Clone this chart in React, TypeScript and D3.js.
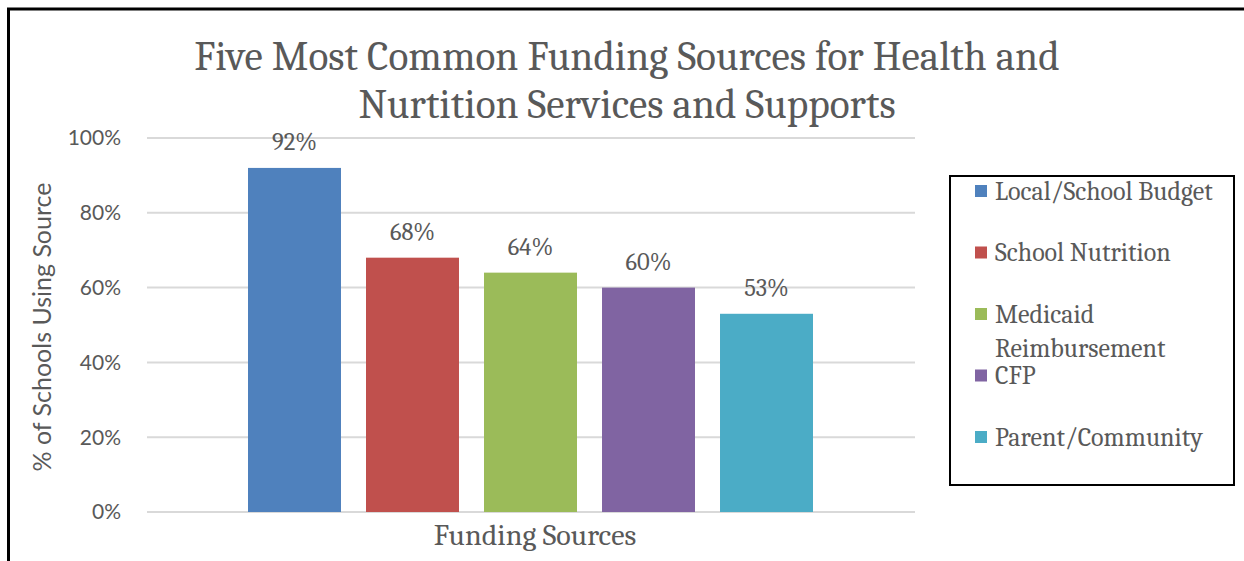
import * as d3 from "d3";

const categories = [
  "Local/School Budget",
  "School Nutrition",
  "Medicaid Reimbursement",
  "CFP",
  "Parent/Community",
];
const values = [0.92, 0.68, 0.64, 0.6, 0.53];
const barColors = ["#4F81BD", "#C0504D", "#9BBB59", "#8064A2", "#4BACC6"];
const yTicks = [0, 0.2, 0.4, 0.6, 0.8, 1];
const titleLines = [
  "Five Most Common Funding Sources for Health and",
  "Nurtition Services and Supports",
];
const legendLines: { [key: string]: string[] } = {
  "Medicaid Reimbursement": ["Medicaid", "Reimbursement"],
};

const width = 1244;
const height = 561;
const serif = "Cambria, 'Liberation Serif', serif";
const sans = "Lato, 'Open Sans', sans-serif";
const textColor = "#595959";

export default function App() {
  // plot area
  const plot = { left: 147, right: 915, top: 138, bottom: 512 };

  const y = d3.scaleLinear().domain([0, 1]).range([plot.bottom, plot.top]);
  const x = d3.scaleBand<string>().domain(categories).range([248, 813]).paddingInner(0.212).paddingOuter(0);
  const legendY = d3.scalePoint<string>().domain(categories).range([191, 437]);
  const pct = d3.format(".0%");

  return (
    <svg
      width={width}
      height={height}
      style={{ position: "absolute", left: 0, top: 0, background: "#fff" }}
    >
      <rect x={8.5} y={9} width={1400} height={700} fill="#fff" stroke="#000" strokeWidth={3} />

      {/* title */}
      {titleLines.map((t, i) => (
        <text
          key={i}
          x={627}
          y={70 + i * 48}
          textAnchor="middle"
          fontFamily={serif}
          fontSize={41.3}
          fill={textColor}
        >
          {t}
        </text>
      ))}

      {/* gridlines + y labels */}
      {yTicks.map((t) => (
        <g key={t}>
          <line x1={plot.left} x2={plot.right} y1={y(t)} y2={y(t)} stroke="#D9D9D9" strokeWidth={2} />
          <text
            x={121}
            y={y(t)}
            dy="0.35em"
            textAnchor="end"
            fontFamily={sans}
            fontSize={21}
            fill={textColor}
          >
            {pct(t)}
          </text>
        </g>
      ))}

      {/* bars */}
      {categories.map((c, i) => (
        <g key={c}>
          <rect
            x={x(c)}
            y={y(values[i])}
            width={x.bandwidth()}
            height={y(0) - y(values[i])}
            fill={barColors[i]}
          />
          <text
            x={(x(c) || 0) + x.bandwidth() / 2}
            y={y(values[i]) - 18}
            textAnchor="middle"
            fontFamily={serif}
            fontSize={24.5}
            fill={textColor}
          >
            {pct(values[i])}
          </text>
        </g>
      ))}

      {/* axis titles */}
      <text
        x={535}
        y={545}
        textAnchor="middle"
        fontFamily={serif}
        fontSize={30}
        fill={textColor}
      >
        Funding Sources
      </text>
      <text
        transform={`translate(51, 327) rotate(-90)`}
        textAnchor="middle"
        fontFamily={sans}
        fontSize={25}
        fill={textColor}
      >
        % of Schools Using Source
      </text>

      {/* legend */}
      <rect x={950} y={176} width={284} height={309} fill="#fff" stroke="#000" strokeWidth={2} />
      {categories.map((c, i) => {
        const ly = legendY(c) || 0;
        const lines = legendLines[c] || [c];
        return (
          <g key={c}>
            <rect x={975} y={ly - 6} width={12} height={12} fill={barColors[i]} />
            {lines.map((l, j) => (
              <text
                key={j}
                x={995}
                y={ly + j * 34}
                dy="0.33em"
                fontFamily={serif}
                fontSize={26}
                fill={textColor}
              >
                {l}
              </text>
            ))}
          </g>
        );
      })}
    </svg>
  );
}
